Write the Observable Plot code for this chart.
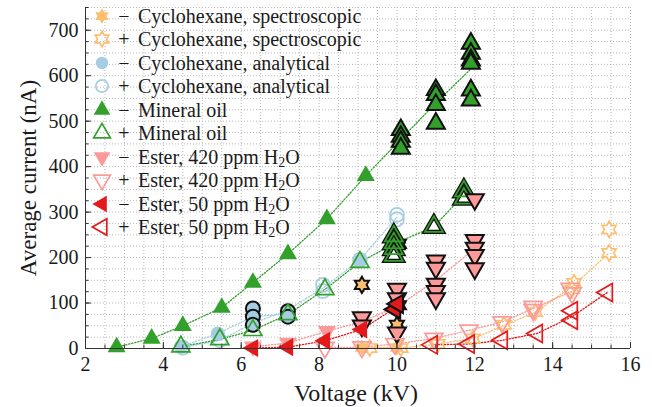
<!DOCTYPE html>
<html><head><meta charset="utf-8">
<script src="https://cdn.jsdelivr.net/npm/d3@7"></script>
<script src="https://cdn.jsdelivr.net/npm/@observablehq/plot@0.6"></script>
<style>
body{margin:0;background:#fff;}
#wrap{position:relative;width:652px;height:407px;font-family:"Liberation Serif",serif;color:#1a1a1a;}
#wrap svg text{font-family:"Liberation Serif",serif;}
#legend{position:absolute;left:91px;top:4px;font-size:20px;}
.row{display:flex;align-items:center;height:23.5px;line-height:20px;white-space:nowrap;}
.row svg{width:22px;height:22px;overflow:visible;}
.row sub{font-size:0.7em;line-height:0;vertical-align:-0.2em;}
.sign{width:22px;text-align:center;margin-right:3px;}
</style></head><body><div id="wrap"><div id="legend"></div></div>
<script>
// Voltage (kV) and average current (nA) for each liquid and polarity.
// "Pts" are single markers, "Reps" are repeated measurements (outlined black),
// "Curve" is the dotted trend line.
const specNegPts = [[9.1, 2], [10.0, 2]];
const specNegReps = [[9.1, 140], [10.05, 230], [10.05, 95], [10.0, 52]];
const specNegCurve = [[9.1, 2], [10.0, 2]];
const specPosPts = [[9.3, 1], [10.1, 1], [11.05, 10], [11.95, 22], [12.75, 52], [13.55, 80], [14.5, 130], [14.55, 144], [15.45, 210], [15.45, 262]];
const specPosCurve = [[9.3, 1], [10.1, 1], [11.05, 10], [11.95, 22], [12.75, 50], [13.55, 80], [14.5, 136], [15.45, 210]];

const anaNegPts = [[4.45, 4], [5.4, 33], [9.05, 192]];
const anaNegReps = [[6.3, 88], [6.3, 70], [6.3, 52], [7.2, 82], [7.2, 70]];
const anaNegCurve = [[4.45, 4], [5.4, 33], [6.3, 70], [7.2, 76]];
const anaPosPts = [[4.5, 2], [5.45, 18], [8.1, 140], [8.1, 126], [9.05, 195], [10.0, 294], [10.0, 284]];
const anaPosCurve = [[4.5, 2], [5.45, 18], [6.3, 55], [7.2, 85], [8.1, 133], [9.05, 195], [10.0, 289]];

const mineralNegPts = [[2.8, 3], [3.7, 22], [4.5, 50], [5.5, 90], [6.3, 145], [7.2, 208], [8.2, 285], [9.2, 380]];
const mineralNegReps = [[10.1, 481], [10.1, 466], [10.1, 455], [10.1, 440], [11.0, 569], [11.0, 558], [11.0, 536], [11.0, 495],
  [11.9, 671], [11.9, 649], [11.9, 634], [11.9, 627], [11.9, 568], [11.9, 546]];
const mineralNegCurve = [[2.8, 3], [3.7, 22], [4.5, 50], [5.5, 90], [6.3, 145], [7.2, 208], [8.2, 285], [9.2, 380], [10.1, 460], [11.0, 540], [11.9, 615]];
const mineralPosPts = [[4.45, 4], [5.45, 20], [6.3, 40], [7.2, 75], [8.15, 130], [9.05, 190]];
const mineralPosReps = [[9.92, 247], [9.92, 232], [9.92, 219], [9.92, 204], [10.95, 268], [11.72, 346], [11.72, 330]];
const mineralPosCurve = [[4.45, 4], [5.45, 20], [6.3, 40], [7.2, 75], [8.15, 130], [9.05, 190], [9.92, 230], [10.95, 268], [11.72, 338]];

const ester420NegPts = [[6.3, 4], [7.2, 12], [8.2, 38]];
const ester420NegReps = [[9.1, 68], [9.1, 50], [10.0, 131], [10.0, 110], [10.0, 35], [11.0, 193], [11.0, 177], [11.0, 142], [11.0, 126], [11.0, 110],
  [12.0, 328], [12.0, 238], [12.0, 221], [12.0, 205], [12.0, 176]];
const ester420NegCurve = [[6.3, 4], [7.2, 12], [8.2, 38], [9.1, 59], [10.0, 92], [11.0, 150], [12.0, 220]];
const ester420PosPts = [[8.15, 2], [9.1, 3], [9.95, 10], [10.95, 22], [11.85, 40], [12.7, 58], [13.5, 92], [13.5, 85], [14.45, 132], [14.5, 122]];
const ester420PosCurve = [[8.15, 2], [9.1, 3], [9.95, 10], [10.95, 22], [11.85, 40], [12.7, 58], [13.5, 88], [14.5, 126]];

const ester50NegPts = [[6.3, 1], [7.2, 3], [8.15, 17], [9.1, 42]];
const ester50NegReps = [[9.95, 86], [10.02, 98]];
const ester50NegCurve = [[6.3, 1], [7.2, 3], [8.15, 17], [9.1, 42], [10.0, 92]];
const ester50PosPts = [[10.9, 8], [11.85, 10], [12.7, 18], [13.6, 33], [14.5, 62], [14.5, 83], [15.4, 123]];
const ester50PosCurve = [[10.9, 8], [11.85, 10], [12.7, 18], [13.6, 33], [14.5, 70], [15.4, 123]];

const xMajor = [2, 4, 6, 8, 10, 12, 14, 16];
const yMajor = [0, 100, 200, 300, 400, 500, 600, 700];
const xTitle = "Voltage (kV)";
const yTitle = "Average current (nA)";

// six-pointed star
const hexagram = {
  draw(ctx, size) {
    const R = Math.sqrt(size / Math.PI) * 1.25, r = R / Math.sqrt(3);
    for (let i = 0; i < 12; i++) {
      const a = -Math.PI / 2 + i * Math.PI / 6, rr = i % 2 ? r : R;
      const x = rr * Math.cos(a), y = rr * Math.sin(a);
      i ? ctx.lineTo(x, y) : ctx.moveTo(x, y);
    }
    ctx.closePath();
  }
};

const orange = "#fdbf6f", blue = "#a6cee3", green = "#33a02c", salmon = "#fb9a99", red = "#e31a1c";
const sub = "H<sub>2</sub>O";
const series = [
  {label: "Cyclohexane, spectroscopic", sign: "−", color: orange, symbol: hexagram, rotate: 0, open: false, r: 6.5, pts: specNegPts, reps: specNegReps, curve: specNegCurve},
  {label: "Cyclohexane, spectroscopic", sign: "+", color: orange, symbol: hexagram, rotate: 0, open: true, r: 6.5, pts: specPosPts, reps: [], curve: specPosCurve},
  {label: "Cyclohexane, analytical", sign: "−", color: blue, symbol: "circle", rotate: 0, open: false, r: 7, pts: anaNegPts, reps: anaNegReps, curve: anaNegCurve},
  {label: "Cyclohexane, analytical", sign: "+", color: blue, symbol: "circle", rotate: 0, open: true, r: 7, pts: anaPosPts, reps: [], curve: anaPosCurve},
  {label: "Mineral oil", sign: "−", color: green, symbol: "triangle", rotate: 0, open: false, r: 6.7, pts: mineralNegPts, reps: mineralNegReps, curve: mineralNegCurve},
  {label: "Mineral oil", sign: "+", color: green, symbol: "triangle", rotate: 0, open: true, r: 6.7, pts: mineralPosPts, reps: mineralPosReps, curve: mineralPosCurve},
  {label: `Ester, 420 ppm ${sub}`, sign: "−", color: salmon, symbol: "triangle", rotate: 180, open: false, r: 6.7, pts: ester420NegPts, reps: ester420NegReps, curve: ester420NegCurve},
  {label: `Ester, 420 ppm ${sub}`, sign: "+", color: salmon, symbol: "triangle", rotate: 180, open: true, r: 6.7, pts: ester420PosPts, reps: [], curve: ester420PosCurve},
  {label: `Ester, 50 ppm ${sub}`, sign: "−", color: red, symbol: "triangle", rotate: -90, open: false, r: 6.7, pts: ester50NegPts, reps: ester50NegReps, curve: ester50NegCurve},
  {label: `Ester, 50 ppm ${sub}`, sign: "+", color: red, symbol: "triangle", rotate: -90, open: true, r: 6.7, pts: ester50PosPts, reps: [], curve: ester50PosCurve}
];

const X = d => d[0], Y = d => d[1];
const serif = "Liberation Serif";
const marks = [
  Plot.gridX(d3.range(2, 16.01, 0.5), {stroke: "#b8b8b8", strokeOpacity: 1, strokeDasharray: "1,2"}),
  Plot.gridY(d3.range(0, 750.1, 25), {stroke: "#b8b8b8", strokeOpacity: 1, strokeDasharray: "1,2"})
];
for (const s of series) {
  marks.push(Plot.line(s.curve, {x: X, y: Y, stroke: s.color, strokeWidth: 1.3, strokeDasharray: "1.3,1.8"}));
}
for (const s of series) {
  const base = {x: X, y: Y, symbol: s.symbol, rotate: s.rotate, r: s.r};
  if (s.open) {
    marks.push(Plot.dot(s.reps, {...base, fill: "white", stroke: "#111", strokeWidth: 4.2}));
    marks.push(Plot.dot(s.reps, {...base, fill: "none", stroke: s.color, strokeWidth: 1.7}));
    marks.push(Plot.dot(s.pts, {...base, fill: "none", stroke: s.color, strokeWidth: 1.7}));
  } else {
    marks.push(Plot.dot(s.pts, {...base, fill: s.color, stroke: "none"}));
    marks.push(Plot.dot(s.reps, {...base, fill: s.color, stroke: "#111", strokeWidth: 2}));
  }
}
marks.push(
  Plot.ruleX([2], {stroke: "#333"}),
  Plot.ruleY([0], {stroke: "#333"}),
  Plot.axisX(d3.range(2, 16.01, 0.5), {tickSize: -3.5, tickFormat: () => "", label: null, stroke: "#333"}),
  Plot.axisY(d3.range(0, 750.1, 25), {tickSize: -3.5, tickFormat: () => "", label: null, stroke: "#333"}),
  Plot.axisX(xMajor, {tickSize: -6, tickPadding: 14, fontSize: 20, fontFamily: serif, label: null, stroke: "#333"}),
  Plot.axisY(yMajor, {tickSize: -6, tickPadding: 13, fontSize: 20, fontFamily: serif, label: null, stroke: "#333"}),
  Plot.text([xTitle], {frameAnchor: "bottom", lineAnchor: "middle", textAnchor: "middle", dy: 45, dx: -2, fontSize: 24, fontFamily: serif, fill: "#1a1a1a"}),
  Plot.text([yTitle], {frameAnchor: "left", lineAnchor: "middle", textAnchor: "middle", dx: -57, rotate: -90, fontSize: 23, fontFamily: serif, fill: "#1a1a1a"})
);

const chart = Plot.plot({
  width: 652, height: 407,
  marginLeft: 85, marginRight: 22, marginTop: 7, marginBottom: 59,
  x: {domain: [2, 16]},
  y: {domain: [0, 750]},
  style: {fontFamily: serif, fontSize: "20px", color: "#1a1a1a", background: "white"},
  marks
});
document.getElementById("wrap").prepend(chart);

// legend rows, drawn with the same symbols
const legend = document.getElementById("legend");
for (const s of series) {
  const row = document.createElement("div");
  row.className = "row";
  const type = s.symbol === "circle" ? d3.symbolCircle : s.symbol === "triangle" ? d3.symbolTriangle : s.symbol;
  const path = d3.symbol(type, Math.PI * 6.2 * 6.2)();
  const fill = s.open ? "none" : s.color, stroke = s.open ? s.color : "none";
  row.innerHTML = `<svg viewBox="-11 -11 22 22"><path d="${path}" transform="rotate(${s.rotate})" fill="${fill}" stroke="${stroke}" stroke-width="1.7"/></svg>` +
    `<span class="sign">${s.sign}</span><span>${s.label}</span>`;
  legend.appendChild(row);
}
</script></body></html>
